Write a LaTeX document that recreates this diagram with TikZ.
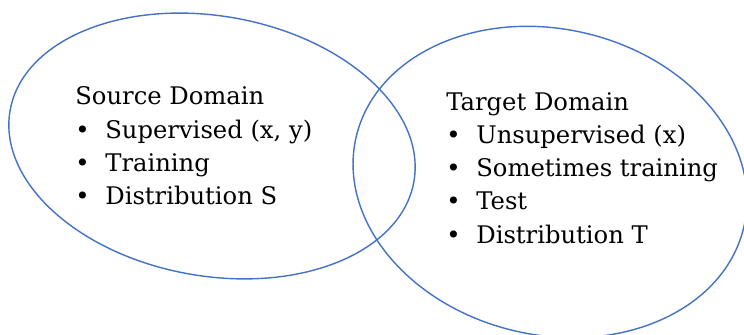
\documentclass[tikz,border=0pt]{standalone}
\usepackage{fontspec}
\setmainfont{DejaVu Serif}
\usetikzlibrary{shapes.geometric,positioning}
\definecolor{ringblue}{HTML}{4472C4}
\newcommand{\itm}[1]{\makebox[0.6cm][l]{\textbullet}#1}

\begin{document}
\begin{tikzpicture}[
  ring/.style={ellipse,draw=ringblue,line width=0.8pt,inner sep=0pt},
  domtext/.style={align=left,anchor=north west,inner sep=0pt,
    font=\fontsize{13.8}{18.9}\selectfont}]
  \useasboundingbox (0,0) rectangle (14.88,6.70);
  \clip (0,0) rectangle (14.88,6.70);
  % the two domains
  \node[ring,rotate=-10,minimum width=8.2cm,minimum height=5.2cm] (src) at (4.24,3.78) {};
  \node[ring,rotate=-13,minimum width=7.96cm,minimum height=6.12cm] (tgt) at (11.0,3.06) {};
  % what is in them
  \node[domtext] (srclist) at (1.5,4.97) {Source Domain\\
    \itm{Supervised (x, y)}\\
    \itm{Training}\\
    \itm{Distribution S}};
  \node[domtext] (tgtlist) at (8.92,4.86) {Target Domain\\
    \itm{Unsupervised (x)}\\
    \itm{Sometimes training}\\
    \itm{Test}\\
    \itm{Distribution T}};
\end{tikzpicture}
\end{document}
